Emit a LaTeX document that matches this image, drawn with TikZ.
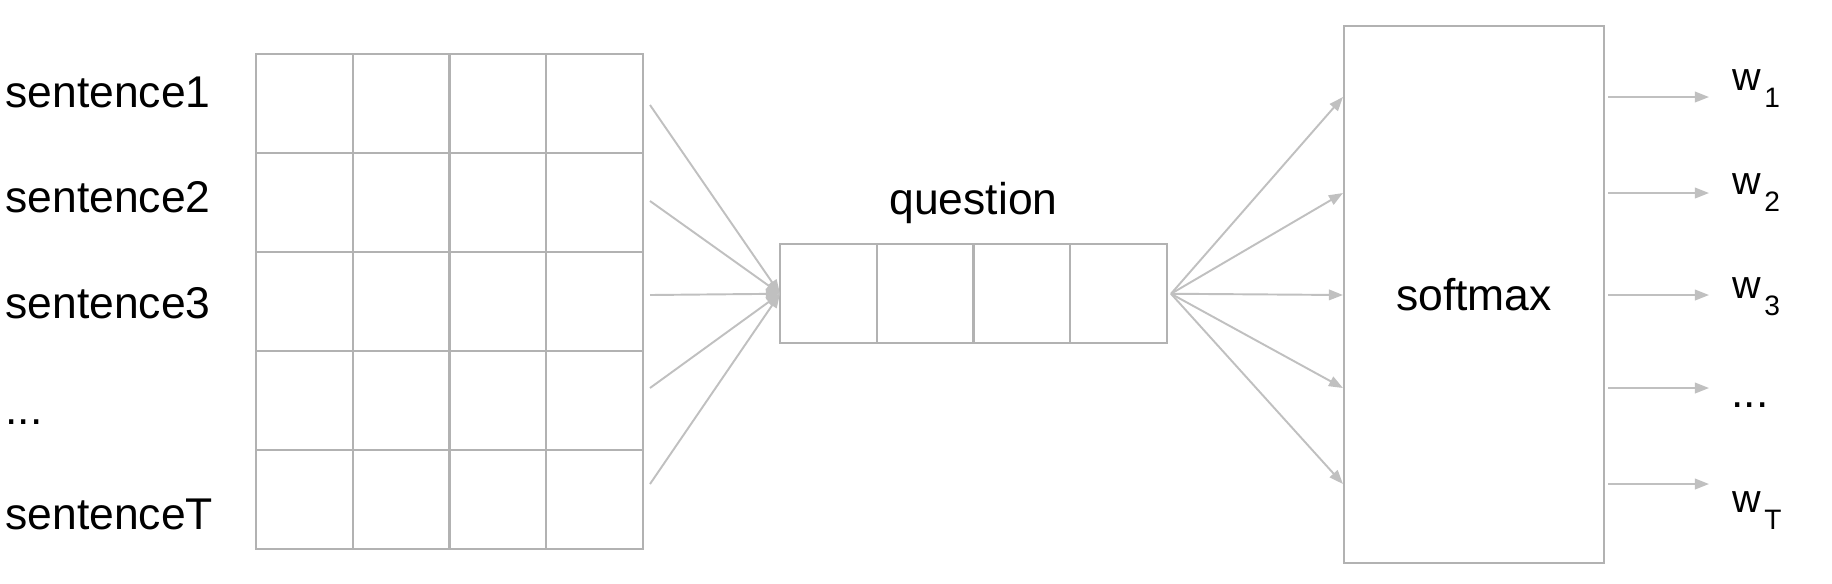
\documentclass[tikz,border=0pt]{standalone}
\usepackage{fontspec}
\setmainfont{Liberation Sans}
\usetikzlibrary{arrows.meta,calc}

\definecolor{boxgray}{RGB}{178,178,178}
\definecolor{arrowgray}{RGB}{192,192,192}

\tikzset{
  cell/.style={draw=boxgray, line width=1.2pt, minimum width=1.935cm,
    minimum height=1.98cm, inner sep=0pt, outer sep=0pt},
  lbl/.style={inner sep=0pt, anchor=base west, font=\fontsize{25.3}{30}\selectfont},
  wlbl/.style={inner sep=0pt, anchor=base west, font=\fontsize{22.5}{26}\selectfont},
  arr/.style={draw=arrowgray, line width=1.1pt, -{Triangle[length=8pt,width=6pt]}},
}
\newcommand{\wsub}[1]{w\kern2pt\raisebox{-9.9pt}{\fontsize{16}{18}\selectfont #1}}

\begin{document}
\begin{tikzpicture}[x=0.02cm, y=-0.02cm]
  \useasboundingbox (0,0) rectangle (1832,583);

  % sentence memory
  \foreach \r in {1,...,5}
    \foreach \c in {1,...,4}
      \node[cell] (m-\r-\c) at ({256+96.75*(\c-0.5)}, {54+99*(\r-0.5)}) {};
  \node[lbl] (s1) at (5,107) {sentence1};
  \node[lbl] (s2) at (5,212) {sentence2};
  \node[lbl] (s3) at (5,318) {sentence3};
  \node[lbl] (sdots) at (5,424) {...};
  \node[lbl] (sT) at (5,529) {sentenceT};

  % question vector
  \foreach \c in {1,...,4}
    \node[cell] (q-\c) at ({780+96.75*(\c-0.5)}, 293.75) {};
  \node[lbl, anchor=base] (qlab) at (973.5,214) {question};

  % softmax
  \node[draw=boxgray, line width=1.2pt, minimum width=5.2cm, minimum height=10.74cm,
    inner sep=0pt, font=\fontsize{25.3}{30}\selectfont] (sm) at (1474,294.5) {softmax};

  % memory -> question
  \foreach \y [count=\i] in {105,201,295,388,484} {
    \coordinate (in\i) at (650,\y);
    \draw[arr] (in\i) -- (q-1.west);
  }

  % question -> softmax
  \foreach \y in {97,193,295,388,484}
    \draw[arr] ($(q-4.east)+(4,0)$) -- (sm.west |- 0,\y);

  % softmax -> weights
  \foreach \y [count=\i] in {97,193,295,388,484} {
    \coordinate (o\i) at (1709,\y);
    \draw[arr] ($(sm.east |- 0,\y)+(3,0)$) -- (o\i);
  }
  \node[wlbl] (w1) at (1732,90) {\wsub{1}};
  \node[wlbl] (w2) at (1732,194) {\wsub{2}};
  \node[wlbl] (w3) at (1732,298) {\wsub{3}};
  \node[lbl] (wdots) at (1731,407) {...};
  \node[wlbl] (wT) at (1732,512) {\wsub{T}};
\end{tikzpicture}
\end{document}
